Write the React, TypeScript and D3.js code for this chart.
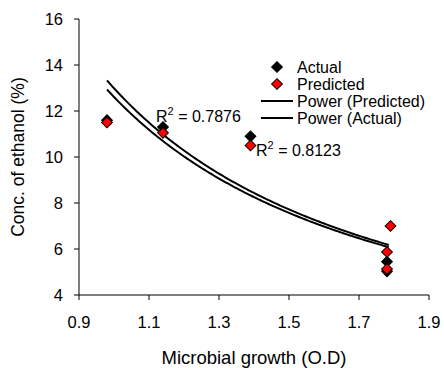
import * as d3 from 'd3';

// measured points
const actualX = [0.98, 1.14, 1.39, 1.78, 1.78];
const actualY = [11.6, 11.3, 10.9, 5.45, 5.03];
const predictedX = [0.98, 1.14, 1.39, 1.79, 1.78, 1.78];
const predictedY = [11.5, 11.05, 10.5, 7.0, 5.87, 5.13];

// power trendlines y = a * x^b (coefficients)
const powerPredicted = { a: 12.99, b: -1.283, r2: '0.7876' };
const powerActual = { a: 12.61, b: -1.259, r2: '0.8123' };
const trendRange = [0.98, 1.785];

const xTicks = [0.9, 1.1, 1.3, 1.5, 1.7, 1.9];
const yTicks = [4, 6, 8, 10, 12, 14, 16];

const legendItems = ['Actual', 'Predicted', 'Power (Predicted)', 'Power (Actual)'];

export default function App() {
  const width = 444;
  const height = 368;
  const margin = { top: 19, right: 15, bottom: 73, left: 79 };
  const font = 'Liberation Sans, Arial, sans-serif';

  const x = d3.scaleLinear().domain([0.9, 1.9]).range([margin.left, width - margin.right]);
  const y = d3.scaleLinear().domain([4, 16]).range([height - margin.bottom, margin.top]);

  const diamond = d3.symbol().type(d3.symbolSquare).size(58)() ?? '';

  const curve = (p: { a: number; b: number }) => {
    const xs = d3.range(trendRange[0], trendRange[1] + 1e-9, 0.005);
    return (
      d3
        .line<number>()
        .x((v) => x(v))
        .y((v) => y(p.a * Math.pow(v, p.b)))(xs) ?? ''
    );
  };

  const x0 = margin.left;
  const y0 = height - margin.bottom;

  return (
    <svg
      width={width}
      height={height}
      style={{ position: 'absolute', left: 0, top: 0, background: '#fff' }}
      fontFamily={font}
    >
      {/* axes */}
      <line x1={x0} x2={x0} y1={margin.top} y2={y0} stroke="#000" strokeWidth={1} />
      <line x1={x0} x2={width - margin.right} y1={y0} y2={y0} stroke="#000" strokeWidth={1} />
      {yTicks.map((t) => (
        <g key={t}>
          <line x1={x0 - 5} x2={x0} y1={y(t)} y2={y(t)} stroke="#000" />
          <text x={x0 - 16} y={y(t)} dy="0.36em" textAnchor="end" fontSize={16.5}>
            {t}
          </text>
        </g>
      ))}
      {xTicks.map((t) => (
        <g key={t}>
          <line x1={x(t)} x2={x(t)} y1={y0} y2={y0 + 5} stroke="#000" />
          <text x={x(t)} y={y0 + 33} textAnchor="middle" fontSize={16.5}>
            {t.toFixed(1)}
          </text>
        </g>
      ))}
      <text x={254} y={364} textAnchor="middle" fontSize={18.5}>
        Microbial growth (O.D)
      </text>
      <text
        transform={`translate(24,${(margin.top + y0) / 2}) rotate(-90)`}
        textAnchor="middle"
        fontSize={17.5}
      >
        Conc. of ethanol (%)
      </text>

      {/* trendlines */}
      <path d={curve(powerPredicted)} fill="none" stroke="#000" strokeWidth={2} />
      <path d={curve(powerActual)} fill="none" stroke="#000" strokeWidth={2} />

      {/* points */}
      {actualX.map((v, i) => (
        <path
          key={`a${i}`}
          d={diamond}
          transform={`translate(${x(v)},${y(actualY[i])}) rotate(45)`}
          fill="#000"
          stroke="#000"
          strokeWidth={1}
        />
      ))}
      {predictedX.map((v, i) => (
        <path
          key={`p${i}`}
          d={diamond}
          transform={`translate(${x(v)},${y(predictedY[i])}) rotate(45)`}
          fill="#ff0000"
          stroke="#000"
          strokeWidth={1}
        />
      ))}

      {/* R² labels */}
      <text x={156} y={122} fontSize={16}>
        R<tspan dy={-7} fontSize={11}>2</tspan>
        <tspan dy={7}> = {powerPredicted.r2}</tspan>
      </text>
      <text x={256} y={156} fontSize={16}>
        R<tspan dy={-7} fontSize={11}>2</tspan>
        <tspan dy={7}> = {powerActual.r2}</tspan>
      </text>

      {/* legend */}
      {legendItems.map((name, i) => {
        const ly = 67 + i * 17;
        return (
          <g key={name}>
            {i < 2 ? (
              <path
                d={diamond}
                transform={`translate(277,${ly}) rotate(45)`}
                fill={i === 0 ? '#000' : '#ff0000'}
                stroke="#000"
              />
            ) : (
              <line x1={261} x2={293} y1={ly} y2={ly} stroke="#000" strokeWidth={2} />
            )}
            <text x={297} y={ly} dy="0.36em" fontSize={16}>
              {name}
            </text>
          </g>
        );
      })}
    </svg>
  );
}
